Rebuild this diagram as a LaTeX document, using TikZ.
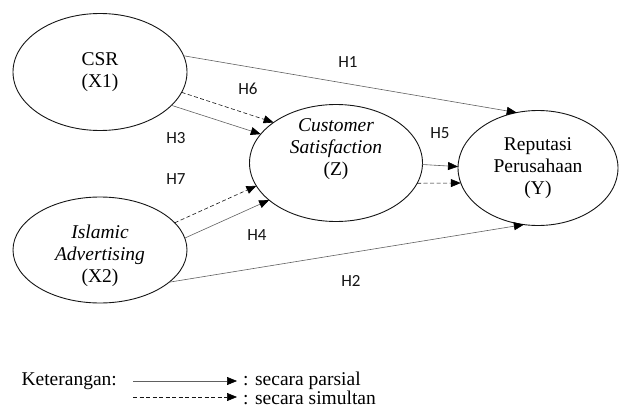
\documentclass[tikz,border=0pt]{standalone}
\usepackage{fontspec}
\setmainfont{Liberation Serif}
\newfontfamily\hypfont{Carlito}
\usetikzlibrary{shapes.geometric,arrows.meta}
\definecolor{linegray}{HTML}{606060}
\definecolor{inkblack}{HTML}{151515}

\begin{document}
\begin{tikzpicture}[x=1pt,y=-1pt]
      % Kerangka konseptual: X1, X2 -> Z -> Y
      % Styles
      \tikzstyle{var} = [draw=inkblack, ellipse, line width=0.9pt, inner sep=0pt, outer sep=0pt, align=center, font=\fontsize{19.5}{22}\selectfont]
      \tikzstyle{txt} = [align=center, font=\fontsize{19.5}{22}\selectfont]
      \tikzstyle{hyp} = [font=\hypfont\fontsize{17}{19}\selectfont, text=inkblack]
      \tikzstyle{parsial} = [-{Triangle[length=10pt,width=8pt,color=black]}, draw=linegray, line width=0.6pt]
      \tikzstyle{simultan} = [parsial, draw=inkblack, dash pattern=on 4pt off 2.5pt]

      \useasboundingbox (0,0) rectangle (621,412);

      % Variables
      \node[var, minimum width=174pt, minimum height=117pt] (csr) at (100,72) {CSR\\(X1)};
      \node[var, minimum width=174pt, minimum height=106pt] (ia) at (100,250) {};
      \node[txt] (iatext) at ([yshift=-6pt]ia.center) {\textit{Islamic}\\\textit{Advertising}\\(X2)};
      \node[var, minimum width=173pt, minimum height=117pt] (cs) at (336,163) {};
      \node[txt] (cstext) at ([yshift=14pt]cs.center) {\textit{Customer}\\\textit{Satisfaction}\\(Z)};
      \node[var, minimum width=160pt, minimum height=115pt] (rp) at (538,168) {Reputasi\\Perusahaan\\(Y)};

      % Arrows
      \draw[parsial] (csr.11) -- (rp.111);
      \draw[simultan] (csr.-14) -- (cs.147);
      \draw[parsial] (csr.-25) -- (cs.159);
      \draw[simultan] (ia.20) -- (cs.196);
      \draw[parsial] (ia.8) -- (cs.209);
      \draw[parsial] (ia.-25) -- (rp.-104);
      \draw[parsial] (cs.-1) -- (rp.179);
      \draw[simultan] (cs.-14) -- (rp.-169);

      % Hypothesis labels
      \node[hyp] (h1) at (348,62) {H1};
      \node[hyp] (h6) at (248,89) {H6};
      \node[hyp] (h3) at (176,138) {H3};
      \node[hyp] (h7) at (176,179) {H7};
      \node[hyp] (h4) at (257,235) {H4};
      \node[hyp] (h2) at (351,281) {H2};
      \node[hyp] (h5) at (440,133) {H5};

      % Legend
      \node[txt, anchor=west] (ket) at (18,381) {Keterangan:};
      \coordinate (pa) at (133,381);
      \node[txt, anchor=west, inner sep=2pt] (par) at (241,381) {: secara parsial};
      \draw[parsial] (pa) -- ([xshift=-4pt]par.west);
      \coordinate (sa) at (133,397);
      \node[txt, anchor=west, inner sep=2pt] (sim) at (241,398) {: secara simultan};
      \draw[simultan] (sa) -- ([xshift=-4pt]sa -| sim.west);

\end{tikzpicture}
\end{document}
